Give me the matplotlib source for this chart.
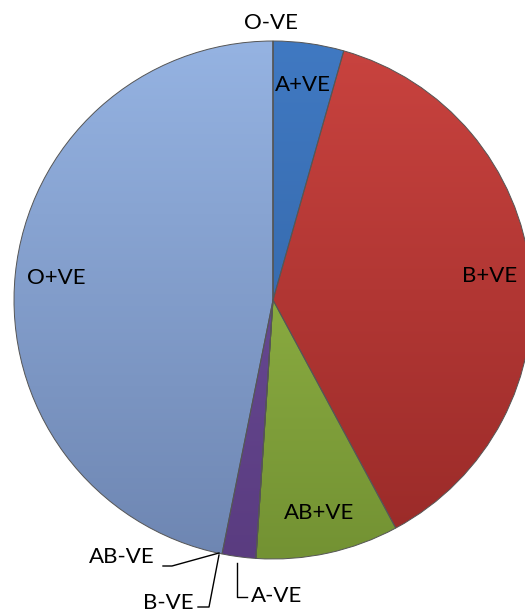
import numpy as np
import matplotlib.pyplot as plt
from matplotlib.colors import LinearSegmentedColormap

plt.rcParams['font.family'] = ['Lato', 'DejaVu Sans']

# blood group shares (%), clockwise from the top
groups = ['O-VE', 'A+VE', 'B+VE', 'AB+VE', 'A-VE', 'B-VE', 'AB-VE', 'O+VE']
shares = [0, 4.4, 37.7, 8.9, 0, 0, 2.1, 46.8]
top_cols = ['#5a8ad0', '#4079c2', '#c9433f', '#9fc24d', '#8a6cb0', '#8a6cb0', '#7152a0', '#95b3e2']
bot_cols = ['#2f5f9e', '#2f5f9e', '#992a28', '#739233', '#5a3c80', '#5a3c80', '#5a3c80', '#6e86b2']
# groups whose labels sit outside the pie with a leader line
outside = ['O-VE', 'A-VE', 'B-VE', 'AB-VE']

fig = plt.figure(figsize=(5.25, 6.14), dpi=100)
ax = fig.add_axes([0, 0, 1, 1])

R = 259.0   # px per data unit
cx, cy = 273, 300
def px(x, y):
    return (x - cx) / R, (cy - y) / R

wedges, _ = ax.pie(shares, startangle=90, counterclock=False, radius=1,
                   colors=top_cols,
                   wedgeprops=dict(linewidth=0.7, edgecolor='#555555'))

# vertical shading inside each slice
grad = np.linspace(0, 1, 256).reshape(-1, 1)
for w, c1, c2 in zip(wedges, top_cols, bot_cols):
    cmap = LinearSegmentedColormap.from_list('g', [c1, c2])
    im = ax.imshow(grad, cmap=cmap, extent=(-1, 1, -1, 1), origin='upper',
                   aspect='auto', zorder=w.get_zorder() + 0.1)
    im.set_clip_path(w)
    w.set_zorder(w.get_zorder() + 0.2)
    w.set_facecolor('none')

# labels inside slices
fs = 16
for w, name in zip(wedges, groups):
    if name in outside:
        continue
    mid = np.deg2rad((w.theta1 + w.theta2) / 2)
    r = 0.84
    ax.text(r * np.cos(mid), r * np.sin(mid), name, ha='center', va='center',
            fontsize=fs, color='black', zorder=5)

# labels outside
x, y = px(271, 23)
ax.text(x, y, 'O-VE', ha='center', va='center', fontsize=fs, zorder=5)

x, y = px(122, 557)
ax.text(x, y, 'AB-VE', ha='center', va='center', fontsize=fs, zorder=5)
pts = np.array([px(163, 566), px(172, 566), px(219, 553)])
ax.plot(pts[:, 0], pts[:, 1], color='black', lw=1, zorder=5)

x, y = px(168, 603)
ax.text(x, y, 'B-VE', ha='center', va='center', fontsize=fs, zorder=5)
pts = np.array([px(198, 607), px(209, 607), px(219, 555)])
ax.plot(pts[:, 0], pts[:, 1], color='black', lw=1, zorder=5)

x, y = px(277, 596)
ax.text(x, y, 'A-VE', ha='center', va='center', fontsize=fs, zorder=5)
pts = np.array([px(247, 597), px(237, 597), px(237, 563)])
ax.plot(pts[:, 0], pts[:, 1], color='black', lw=1, zorder=5)

ax.set_xlim(-cx / R, (525 - cx) / R)
ax.set_ylim(-(614 - cy) / R, cy / R)
ax.set_aspect('auto')
ax.axis('off')

fig.savefig('out.png', dpi=100)
